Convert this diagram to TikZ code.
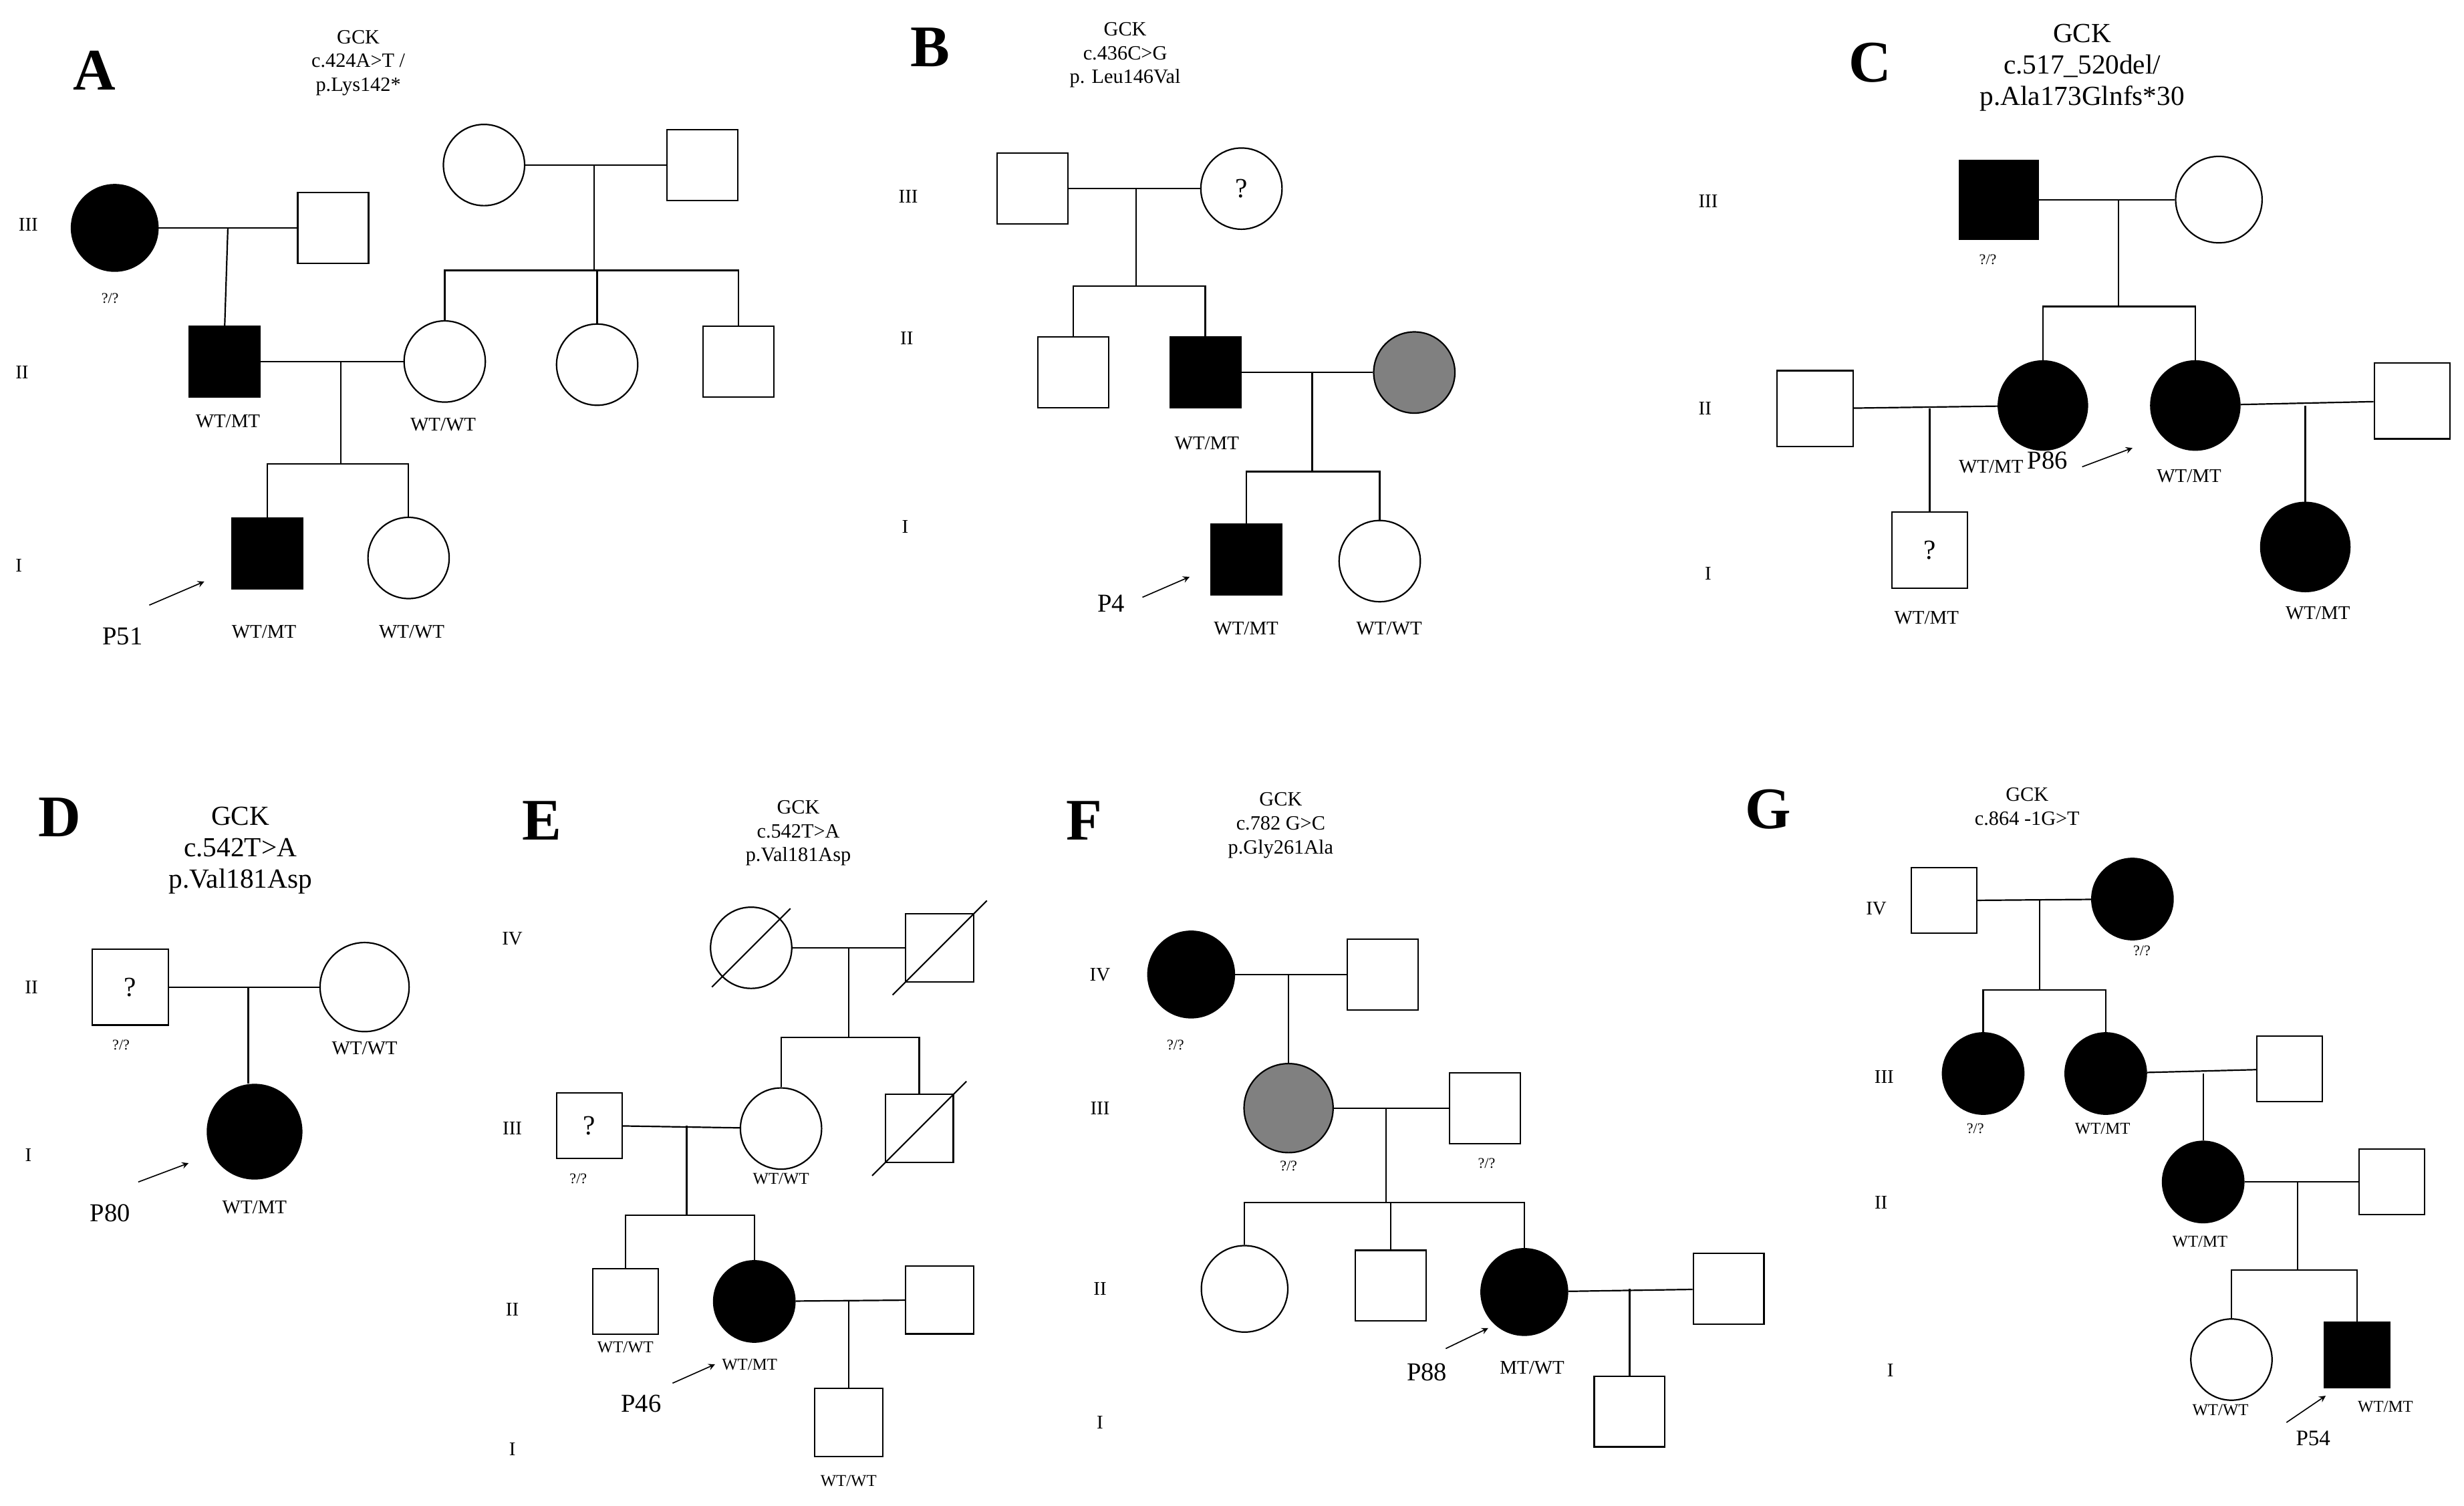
\documentclass[tikz,border=0pt]{standalone}
\usepackage{fontspec}
\setmainfont{Liberation Serif}
\begin{document}
\begin{tikzpicture}[x=0.03cm,y=-0.03cm,line width=0.8pt,
 sq/.style={draw,minimum size=1.35cm,inner sep=0pt,font=\fontsize{15}{15}\selectfont},
 sqf/.style={sq,fill=black},
 ci/.style={draw,circle,minimum size=1.55cm,inner sep=0pt,font=\fontsize{15}{15}\selectfont},
 cif/.style={ci,fill=black},
 cig/.style={ci,fill=gray},
 lab/.style={font=\fontsize{10.5}{11}\selectfont},
 qq/.style={font=\fontsize{8}{9}\selectfont},
 gen/.style={font=\fontsize{10.5}{11}\selectfont},
 ttl/.style={font=\fontsize{11}{13}\selectfont,align=center},
 ttlb/.style={font=\fontsize{15}{17}\selectfont,align=center},
 let/.style={font=\fontsize{32}{32}\selectfont\bfseries},
 pl/.style={font=\fontsize{14}{14}\selectfont},
 ar/.style={-stealth,line width=0.6pt}]
\useasboundingbox (0,0) rectangle (1568,958);
% ---------------- A
\node[let] (LA) at (60,45) {A};
\node[ttl] (TA) at (228,40) {GCK\\c.424A>T /\\p.Lys142*};
\node[gen] (gA3) at (18,143) {III};
\node[gen] (gA2) at (14,237) {II};
\node[gen] (gA1) at (12,360) {I};
\node[cif,minimum size=1.65cm] (a1) at (73,145) {};
\node[sq] (a2) at (212,145) {};
\node[qq] (qa1) at (70,190) {?/?};
\node[ci] (a3) at (308,105) {};
\node[sq] (a4) at (447,105) {};
\node[sqf] (a5) at (143,230) {};
\node[ci] (a6) at (283,230) {};
\node[ci] (a7) at (380,232) {};
\node[sq] (a8) at (470,230) {};
\node[sqf] (a9) at (170,352) {};
\node[ci] (a10) at (260,355) {};
\draw (a1) -- (a2); \coordinate (ma1) at (145,145);
\draw (ma1) -- (a5.north);
\draw (a3) -- (a4); \coordinate (ma2) at (378,105); \coordinate (sa2) at (378,172);
\draw (ma2) -- (sa2);
\draw (a6.north) -- (a6.north |- sa2) -- (a8.north |- sa2) -- (a8.north);
\draw (a7.north) -- (a7.north |- sa2);
\draw (a5) -- (a6); \coordinate (ma3) at (217,230); \coordinate (sa3) at (217,295);
\draw (ma3) -- (sa3);
\draw (a9.north) -- (a9.north |- sa3) -- (a10.north |- sa3) -- (a10.north);
\node[lab] (la1) at (145,268) {WT/MT};
\node[lab] (la2) at (282,270) {WT/WT};
\node[lab] (la3) at (168,402) {WT/MT};
\node[lab] (la4) at (262,402) {WT/WT};
\node[pl] (pA) at (78,405) {P51};
\coordinate (pA1) at (95,385); \coordinate (pA2) at (130,370);
\draw[ar] (pA1) -- (pA2);
% ---------------- B
\node[let] (LB) at (592,30) {B};
\node[ttl] (TB) at (716,35) {GCK\\c.436C>G\\p. Leu146Val};
\node[gen] (gB3) at (578,125) {III};
\node[gen] (gB2) at (577,215) {II};
\node[gen] (gB1) at (576,335) {I};
\node[sq] (b1) at (657,120) {};
\node[ci] (b2) at (790,120) {?};
\node[sq] (b3) at (683,237) {};
\node[sqf] (b4) at (767,237) {};
\node[cig] (b5) at (900,237) {};
\node[sqf] (b6) at (793,356) {};
\node[ci] (b7) at (878,357) {};
\draw (b1) -- (b2); \coordinate (mb1) at (723,120); \coordinate (sb1) at (723,182);
\draw (mb1) -- (sb1);
\draw (b3.north) -- (b3.north |- sb1) -- (b4.north |- sb1) -- (b4.north);
\draw (b4) -- (b5); \coordinate (mb2) at (835,237); \coordinate (sb2) at (835,300);
\draw (mb2) -- (sb2);
\draw (b6.north) -- (b6.north |- sb2) -- (b7.north |- sb2) -- (b7.north);
\node[lab] (lb1) at (768,282) {WT/MT};
\node[lab] (lb2) at (793,400) {WT/MT};
\node[lab] (lb3) at (884,400) {WT/WT};
\node[pl] (pB) at (707,384) {P4};
\coordinate (pB1) at (727,380); \coordinate (pB2) at (757,367);
\draw[ar] (pB1) -- (pB2);
% ---------------- C
\node[let] (LC) at (1190,40) {C};
\node[ttlb] (TC) at (1325,43) {GCK\\c.517\_520del/\\p.Ala173Glnfs*30};
\node[gen] (gC3) at (1087,128) {III};
\node[gen] (gC2) at (1085,260) {II};
\node[gen] (gC1) at (1087,365) {I};
\node[sqf,minimum size=1.5cm] (c1) at (1272,127) {};
\node[ci,minimum size=1.65cm] (c2) at (1412,127) {};
\node[qq] (qc1) at (1265,165) {?/?};
\node[cif,minimum size=1.7cm] (c3) at (1300,258) {};
\node[cif,minimum size=1.7cm] (c4) at (1397,258) {};
\node[sq,minimum size=1.45cm] (c5) at (1155,260) {};
\node[sq,minimum size=1.45cm] (c6) at (1228,350) {?};
\node[sq,minimum size=1.45cm] (c7) at (1535,255) {};
\node[cif,minimum size=1.7cm] (c8) at (1467,348) {};
\draw (c1) -- (c2); \coordinate (mc1) at (1348,127); \coordinate (sc1) at (1348,195);
\draw (mc1) -- (sc1);
\draw (c3.north) -- (c3.north |- sc1) -- (c4.north |- sc1) -- (c4.north);
\draw (c5) -- (c3); \coordinate (mc2) at (1228,260);
\draw (mc2) -- (c6.north);
\draw (c4) -- (c7); \coordinate (mc3) at (1467,258);
\draw (mc3) -- (c8.north);
\node[lab] (lc1) at (1226,393) {WT/MT};
\node[lab] (lc2) at (1267,297) {WT/MT};
\node[lab] (lc3) at (1393,303) {WT/MT};
\node[lab] (lc4) at (1475,390) {WT/MT};
\node[pl] (pC) at (1303,293) {P86};
\coordinate (pC1) at (1325,297); \coordinate (pC2) at (1357,285);
\draw[ar] (pC1) -- (pC2);
% ---------------- D
\node[let] (LD) at (38,520) {D};
\node[ttlb] (TD) at (153,541) {GCK\\c.542T>A\\p.Val181Asp};
\node[gen] (gD2) at (20,628) {II};
\node[gen] (gD1) at (18,735) {I};
\node[sq,minimum size=1.45cm] (d1) at (83,628) {?};
\node[ci,minimum size=1.7cm] (d2) at (232,628) {};
\node[cif,minimum size=1.8cm] (d3) at (162,720) {};
\node[qq] (qd1) at (77,665) {?/?};
\node[lab] (ld1) at (232,667) {WT/WT};
\node[lab] (ld2) at (162,768) {WT/MT};
\draw (d1) -- (d2); \coordinate (md1) at (158,628);
\draw (md1) -- (md1 |- d3.north);
\node[pl] (pD) at (70,772) {P80};
\coordinate (pD1) at (88,752); \coordinate (pD2) at (120,740);
\draw[ar] (pD1) -- (pD2);
% ---------------- E
\node[let] (LE) at (345,522) {E};
\node[ttl] (TE) at (508,530) {GCK\\c.542T>A\\p.Val181Asp};
\node[gen] (gE4) at (326,597) {IV};
\node[gen] (gE3) at (326,718) {III};
\node[gen] (gE2) at (326,833) {II};
\node[gen] (gE1) at (326,922) {I};
\node[ci] (e1) at (478,603) {};
\node[sq,minimum size=1.3cm] (e2) at (598,603) {};
\node[ci] (e3) at (497,718) {};
\node[sq,minimum size=1.3cm] (e4) at (585,718) {};
\node[sq,minimum size=1.25cm] (e5) at (375,716) {?};
\node[sq,minimum size=1.25cm] (e6) at (398,828) {};
\node[cif] (e7) at (480,828) {};
\node[sq,minimum size=1.3cm] (e8) at (598,827) {};
\node[sq,minimum size=1.3cm] (e9) at (540,905) {};
\draw ([shift={(-25,25)}]e1.center) -- ([shift={(25,-25)}]e1.center);
\draw ([shift={(-30,30)}]e2.center) -- ([shift={(30,-30)}]e2.center);
\draw ([shift={(-30,30)}]e4.center) -- ([shift={(30,-30)}]e4.center);
\draw (e1) -- (e2); \coordinate (me1) at (540,603); \coordinate (se1) at (540,660);
\draw (me1) -- (se1);
\draw (e3.north) -- (e3.north |- se1) -- (e4.north |- se1) -- (e4.north);
\draw (e5) -- (e3); \coordinate (me2) at (437,716); \coordinate (se2) at (437,773);
\draw (me2) -- (se2);
\draw (e6.north) -- (e6.north |- se2) -- (e7.north |- se2) -- (e7.north);
\draw (e7) -- (e8); \coordinate (me3) at (540,827);
\draw (me3) -- (e9.north);
\node[qq] (qe1) at (368,750) {?/?};
\node[lab,font=\fontsize{9}{10}\selectfont] (le1) at (497,750) {WT/WT};
\node[lab,font=\fontsize{9}{10}\selectfont] (le2) at (398,857) {WT/WT};
\node[lab,font=\fontsize{9}{10}\selectfont] (le3) at (477,868) {WT/MT};
\node[lab,font=\fontsize{9}{10}\selectfont] (le4) at (540,942) {WT/WT};
\node[pl] (pE) at (408,893) {P46};
\coordinate (pE1) at (428,880); \coordinate (pE2) at (455,868);
\draw[ar] (pE1) -- (pE2);
% ---------------- F
\node[let] (LF) at (690,522) {F};
\node[ttl] (TF) at (815,525) {GCK\\c.782 G>C\\p.Gly261Ala};
\node[gen] (gF4) at (700,620) {IV};
\node[gen] (gF3) at (700,705) {III};
\node[gen] (gF2) at (700,820) {II};
\node[gen] (gF1) at (700,905) {I};
\node[cif,minimum size=1.65cm] (f1) at (758,620) {};
\node[sq] (f2) at (880,620) {};
\node[cig,minimum size=1.7cm] (f3) at (820,705) {};
\node[sq] (f4) at (945,705) {};
\node[ci,minimum size=1.65cm] (f5) at (792,820) {};
\node[sq] (f6) at (885,818) {};
\node[cif,minimum size=1.65cm] (f7) at (970,822) {};
\node[sq] (f8) at (1100,820) {};
\node[sq] (f9) at (1037,898) {};
\draw (f1) -- (f2); \coordinate (mf1) at (820,620);
\draw (mf1) -- (f3.north);
\draw (f3) -- (f4); \coordinate (mf2) at (882,705); \coordinate (sf2) at (882,765);
\draw (mf2) -- (sf2);
\draw (f5.north) -- (f5.north |- sf2) -- (f7.north |- sf2) -- (f7.north);
\draw (f6.north) -- (f6.north |- sf2);
\draw (f7) -- (f8); \coordinate (mf3) at (1037,820);
\draw (mf3) -- (f9.north);
\node[qq] (qf1) at (748,665) {?/?};
\node[qq] (qf2) at (820,742) {?/?};
\node[qq] (qf3) at (946,740) {?/?};
\node[lab] (lf1) at (975,870) {MT/WT};
\node[pl] (pF) at (908,873) {P88};
\coordinate (pF1) at (920,858); \coordinate (pF2) at (947,845);
\draw[ar] (pF1) -- (pF2);
% ---------------- G
\node[let] (LG) at (1125,515) {G};
\node[ttl] (TG) at (1290,513) {GCK\\c.864 -1G>T};
\node[gen] (gG4) at (1194,578) {IV};
\node[gen] (gG3) at (1199,685) {III};
\node[gen] (gG2) at (1197,765) {II};
\node[gen] (gG1) at (1203,872) {I};
\node[sq,minimum size=1.25cm] (g1) at (1237,573) {};
\node[cif] (g2) at (1357,572) {};
\node[cif] (g3) at (1262,683) {};
\node[cif] (g4) at (1340,683) {};
\node[sq,minimum size=1.25cm] (g5) at (1457,680) {};
\node[cif] (g6) at (1402,752) {};
\node[sq,minimum size=1.25cm] (g7) at (1522,752) {};
\node[ci] (g8) at (1420,865) {};
\node[sqf,minimum size=1.25cm] (g9) at (1500,862) {};
\draw (g1) -- (g2); \coordinate (mg1) at (1298,573); \coordinate (sg1) at (1298,630);
\draw (mg1) -- (sg1);
\draw (g3.north) -- (g3.north |- sg1) -- (g4.north |- sg1) -- (g4.north);
\draw (g4) -- (g5); \coordinate (mg2) at (1402,683);
\draw (mg2) -- (g6.north);
\draw (g6) -- (g7); \coordinate (mg3) at (1462,752); \coordinate (sg3) at (1462,808);
\draw (mg3) -- (sg3);
\draw (g8.north) -- (g8.north |- sg3) -- (g9.north |- sg3) -- (g9.north);
\node[qq] (qg1) at (1363,605) {?/?};
\node[qq] (qg2) at (1257,718) {?/?};
\node[lab,font=\fontsize{9}{10}\selectfont] (lg1) at (1338,718) {WT/MT};
\node[lab,font=\fontsize{9}{10}\selectfont] (lg2) at (1400,790) {WT/MT};
\node[lab,font=\fontsize{9}{10}\selectfont] (lg3) at (1413,897) {WT/WT};
\node[lab,font=\fontsize{9}{10}\selectfont] (lg4) at (1518,895) {WT/MT};
\node[pl,font=\fontsize{12}{12}\selectfont] (pG) at (1472,915) {P54};
\coordinate (pG1) at (1455,905); \coordinate (pG2) at (1480,888);
\draw[ar] (pG1) -- (pG2);
\end{tikzpicture}
\end{document}
